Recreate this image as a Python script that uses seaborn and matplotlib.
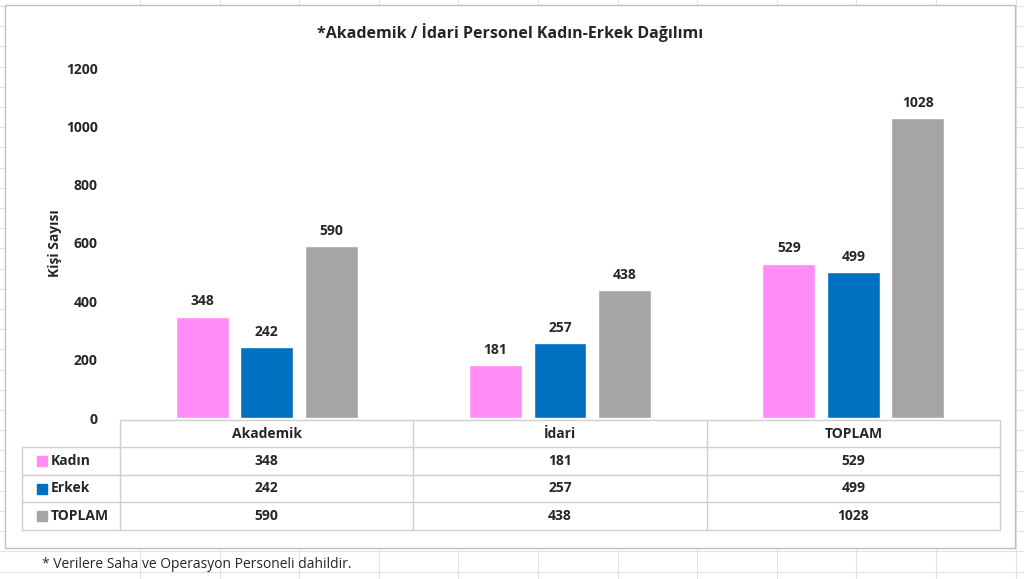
import numpy as np
import pandas as pd
import matplotlib
matplotlib.use("Agg")
import matplotlib.pyplot as plt
import seaborn as sns
from matplotlib.lines import Line2D
from matplotlib.patches import Rectangle

categories = ["Akademik", "İdari", "TOPLAM"]
series = ["Kadın", "Erkek", "TOPLAM"]
kadin = [348, 181, 529]
erkek = [242, 257, 499]
toplam = [590, 438, 1028]
colors = ["#FF8CF7", "#0070C0", "#A5A5A5"]

values = {"Kadın": kadin, "Erkek": erkek, "TOPLAM": toplam}
rows = []
for s in series:
    for c, v in zip(categories, values[s]):
        rows.append({"cat": c, "series": s, "val": v})
df = pd.DataFrame(rows)

sns.set_style("white")
plt.rcParams["font.family"] = ["Open Sans", "DejaVu Sans"]

W, H = 1024, 579
fig = plt.figure(figsize=(W / 100, H / 100), dpi=100)

def fx(x): return x / W
def fy(y): return 1 - y / H

# Excel sheet grid in the background
for x in np.arange(140, 1024, 79.6):
    fig.add_artist(Line2D([fx(x), fx(x)], [0, 1], color="#e2e2e2", lw=0.8, zorder=0))
for y in np.arange(6, 579, 20.2):
    fig.add_artist(Line2D([0, 1], [fy(y), fy(y)], color="#e2e2e2", lw=0.8, zorder=0))
fig.add_artist(Rectangle((fx(5), fy(548)), fx(1010), (548 - 5) / H, facecolor="white",
                         edgecolor="#bfbfbf", lw=1, zorder=1))

ax = fig.add_axes([fx(120), fy(418), fx(880), (418 - 68) / H])
ax.set_zorder(2)
ax.patch.set_alpha(0)
sns.barplot(data=df, x="cat", y="val", hue="series", palette=colors, width=0.66,
            gap=0.18, ax=ax, legend=False, saturation=1)
for cont in ax.containers:
    ax.bar_label(cont, padding=6, fontsize=10, fontweight="bold")
ax.set_ylim(0, 1200)
ax.set_xlim(-0.5, 2.5)
ax.set_yticks(range(0, 1201, 200))
ax.set_yticklabels([str(v) for v in range(0, 1201, 200)], fontsize=10, fontweight="bold")
ax.set_xticks([])
ax.set_xlabel("")
ax.set_ylabel("")
ax.tick_params(axis="y", length=0, pad=16)
for sp in ax.spines.values():
    sp.set_visible(False)

fig.text(fx(55), fy(243), "Kişi Sayısı", rotation=90, ha="center", va="center",
         fontsize=10, fontweight="bold", zorder=3)
fig.text(fx(510), fy(33), "*Akademik / İdari Personel Kadın-Erkek Dağılımı", ha="center",
         va="center", fontsize=11.5, fontweight="bold", zorder=3)

# data table
lc = "#cfcfcf"
row_y = [420, 447, 475, 502, 530]
cols = [120, 413, 707, 1000]
fig.add_artist(Line2D([fx(120), fx(1000)], [fy(420), fy(420)], color=lc, lw=1, zorder=3))
for y in row_y[1:]:
    fig.add_artist(Line2D([fx(22), fx(1000)], [fy(y), fy(y)], color=lc, lw=1, zorder=3))
fig.add_artist(Line2D([fx(22), fx(22)], [fy(447), fy(530)], color=lc, lw=1, zorder=3))
for x in cols:
    fig.add_artist(Line2D([fx(x), fx(x)], [fy(420), fy(530)], color=lc, lw=1, zorder=3))
for i, c in enumerate(categories):
    fig.text(fx((cols[i] + cols[i + 1]) / 2), fy(434), c, ha="center", va="center",
             fontsize=10, fontweight="bold", zorder=3)
for r, s in enumerate(series):
    yc = (row_y[r + 1] + row_y[r + 2]) / 2
    fig.add_artist(Rectangle((fx(37), fy(yc + 5)), fx(10), 10 / H, color=colors[r], zorder=3))
    fig.text(fx(51), fy(yc), s, ha="left", va="center", fontsize=10, fontweight="bold", zorder=3)
    for i, v in enumerate(values[s]):
        fig.text(fx((cols[i] + cols[i + 1]) / 2), fy(yc), str(v), ha="center", va="center",
                 fontsize=10, fontweight="bold", zorder=3)

fig.text(fx(42), fy(565), "* Verilere Saha ve Operasyon Personeli dahildir.", ha="left",
         va="center", fontsize=10, zorder=3)

fig.savefig("out.png", dpi=100)
